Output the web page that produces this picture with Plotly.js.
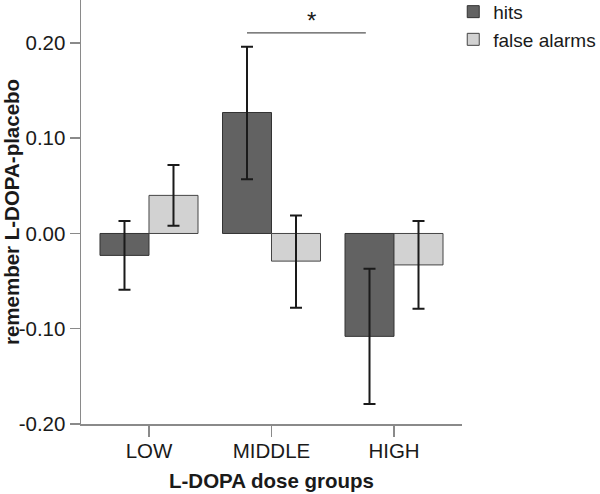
<!DOCTYPE html>
<html>
<head>
<meta charset="utf-8">
<script src="https://cdn.plot.ly/plotly-3.0.1.min.js"></script>
<style>html,body{margin:0;padding:0;background:#fff;}#chart{width:600px;height:494px;}</style>
</head>
<body>
<div id="chart"></div>
<script>
// Data
const categories = ["LOW", "MIDDLE", "HIGH"];
const hitsValues = [-0.023, 0.127, -0.108];
const hitsErrPlus = [0.036, 0.069, 0.071];
const hitsErrMinus = [0.036, 0.070, 0.071];
const faValues = [0.040, -0.029, -0.033];
const faErrPlus = [0.032, 0.048, 0.046];
const faErrMinus = [0.032, 0.049, 0.046];
const seriesNames = ["hits", "false alarms"];
const yTickVals = [-0.20, -0.10, 0.00, 0.10, 0.20];
const yTickText = ["-0.20", "-0.10", "0.00", "0.10", "0.20"];
const sigValue = 0.2105;

const FONT = "Arial, 'Liberation Sans', sans-serif";
const errStyle = {type: "data", symmetric: false, color: "#1a1a1a", thickness: 2, width: 6};

const traces = [
  {
    type: "bar", name: seriesNames[0], x: categories, y: hitsValues,
    marker: {color: "#626262", line: {color: "#333333", width: 1}},
    error_y: Object.assign({array: hitsErrPlus, arrayminus: hitsErrMinus}, errStyle)
  },
  {
    type: "bar", name: seriesNames[1], x: categories, y: faValues,
    marker: {color: "#d2d2d2", line: {color: "#444444", width: 1}},
    error_y: Object.assign({array: faErrPlus, arrayminus: faErrMinus}, errStyle)
  }
];

const layout = {
  width: 600, height: 494,
  margin: {l: 81, r: 138, t: 0, b: 70, autoexpand: false},
  paper_bgcolor: "#ffffff", plot_bgcolor: "#ffffff",
  font: {family: FONT, color: "#1a1a1a", size: 19},
  barmode: "group", bargap: 0.2, bargroupgap: 0,
  showlegend: true,
  legend: {x: 0.977, xanchor: "left", y: 1.017, yanchor: "top",
           font: {family: FONT, size: 19, color: "#1a1a1a"},
           bgcolor: "rgba(0,0,0,0)", itemwidth: 30, tracegroupgap: 0},
  xaxis: {
    type: "category", range: [-0.555, 2.555],
    showline: true, linecolor: "#8a8a8a", linewidth: 1.5,
    ticks: "outside", ticklen: 11, tickcolor: "#8a8a8a", tickwidth: 1.5,
    ticklabelstandoff: -3,
    showgrid: false, zeroline: false,
    tickfont: {family: FONT, size: 20.5, color: "#1a1a1a"},
    title: {text: "L-DOPA dose groups", font: {family: FONT, size: 20.5, color: "#1a1a1a", weight: "bold"}, standoff: 12},
    fixedrange: true
  },
  yaxis: {
    range: [-0.2, 0.2451],
    tickvals: yTickVals, ticktext: yTickText,
    showline: true, linecolor: "#8a8a8a", linewidth: 1.5,
    ticks: "outside", ticklen: 10, tickcolor: "#8a8a8a", tickwidth: 1.5,
    showgrid: false, zeroline: false,
    tickfont: {family: FONT, size: 20.5, color: "#1a1a1a"},
    title: {text: "remember L-DOPA-placebo", font: {family: FONT, size: 20.5, color: "#1a1a1a", weight: "bold"}, standoff: 4},
    fixedrange: true
  },
  shapes: [
    {type: "line", xref: "x", yref: "y", x0: 0.8, x1: 1.77, y0: sigValue, y1: sigValue,
     line: {color: "#555555", width: 1.2}}
  ],
  annotations: [
    {xref: "x", yref: "y", x: 1.33, y: sigValue, yanchor: "bottom", text: "*", showarrow: false,
     font: {family: FONT, size: 24, color: "#1a1a1a"}, yshift: -3}
  ]
};

Plotly.newPlot("chart", traces, layout, {displayModeBar: false, staticPlot: true});
</script>
</body>
</html>
